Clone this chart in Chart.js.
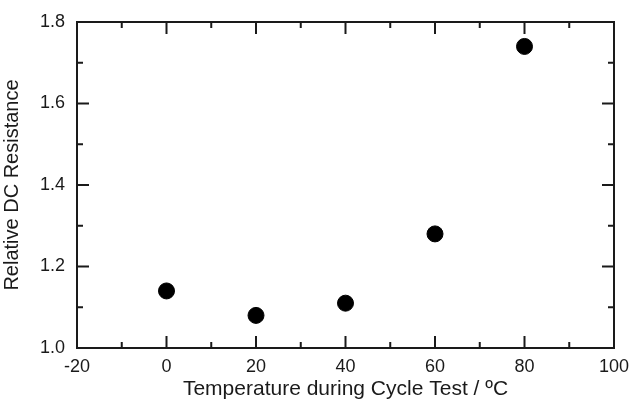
<!DOCTYPE html>
<html>
<head>
<meta charset="utf-8">
<script src="https://cdn.jsdelivr.net/npm/chart.js@4"></script>
<style>
html,body{margin:0;padding:0;background:#fff;}
#wrap{width:629px;height:402px;}
</style>
</head>
<body>
<div id="wrap"><canvas id="c" width="629" height="402"></canvas></div>
<script>
const temperatures = [0, 20, 40, 60, 80];
const resistance = [1.14, 1.08, 1.11, 1.28, 1.74];
const xTicks = [-20, 0, 20, 40, 60, 80, 100];
const yTicks = [1.0, 1.2, 1.4, 1.6, 1.8];
const xMinor = [-10, 10, 30, 50, 70, 90];
const yMinor = [1.1, 1.3, 1.5, 1.7];

const FONT = "'Liberation Sans', Arial, Helvetica, sans-serif";
const INK = '#1a1a1a';

const frame = {
  id: 'frame',
  afterDraw(chart) {
    const {ctx, chartArea: a, scales: {x, y}} = chart;
    ctx.save();
    ctx.strokeStyle = INK;
    ctx.lineWidth = 2;
    ctx.strokeRect(a.left, a.top, a.right - a.left, a.bottom - a.top);
    ctx.beginPath();
    const tick = (vals, len) => {
      vals.forEach(v => {
        const px = x.getPixelForValue(v);
        ctx.moveTo(px, a.bottom); ctx.lineTo(px, a.bottom - len);
        ctx.moveTo(px, a.top); ctx.lineTo(px, a.top + len);
      });
    };
    const ytick = (vals, len) => {
      vals.forEach(v => {
        const py = y.getPixelForValue(v);
        ctx.moveTo(a.left, py); ctx.lineTo(a.left + len, py);
        ctx.moveTo(a.right, py); ctx.lineTo(a.right - len, py);
      });
    };
    tick(xTicks, 12); tick(xMinor, 6);
    ytick(yTicks, 12); ytick(yMinor, 6);
    ctx.stroke();
    ctx.restore();
  }
};

new Chart(document.getElementById('c'), {
  type: 'scatter',
  data: {
    datasets: [{
      data: temperatures.map((t, i) => ({x: t, y: resistance[i]})),
      backgroundColor: '#000',
      borderColor: '#000',
      pointRadius: 8,
      pointHoverRadius: 8
    }]
  },
  options: {
    responsive: false,
    animation: false,
    events: [],
    layout: {padding: {left: 0, right: 15, top: 22, bottom: 0}},
    plugins: {legend: {display: false}, tooltip: {enabled: false}},
    scales: {
      x: {
        type: 'linear', min: -20, max: 100,
        afterBuildTicks: s => { s.ticks = xTicks.map(v => ({value: v})); },
        afterFit: s => { s.height = 54; s.paddingLeft = 0; s.paddingRight = 0; },
        grid: {display: false, drawTicks: false},
        border: {display: false},
        ticks: {color: INK, font: {family: FONT, size: 18}, padding: 8, maxRotation: 0, autoSkip: false},
        title: {display: true, text: 'Temperature during Cycle Test / ºC', color: INK,
                font: {family: FONT, size: 21}, padding: {top: 0, bottom: 0}}
      },
      y: {
        type: 'linear', min: 1.0, max: 1.8,
        afterBuildTicks: s => { s.ticks = yTicks.map(v => ({value: v})); },
        afterFit: s => { s.width = 77; s.paddingTop = 0; s.paddingBottom = 0; },
        grid: {display: false, drawTicks: false},
        border: {display: false},
        ticks: {color: INK, font: {family: FONT, size: 18}, padding: 12, autoSkip: false,
                callback: v => Number(v).toFixed(1)},
        title: {display: true, text: 'Relative DC Resistance', color: INK,
                font: {family: FONT, size: 20}, padding: {top: 0, bottom: 2}}
      }
    }
  },
  plugins: [frame]
});
</script>
</body>
</html>
